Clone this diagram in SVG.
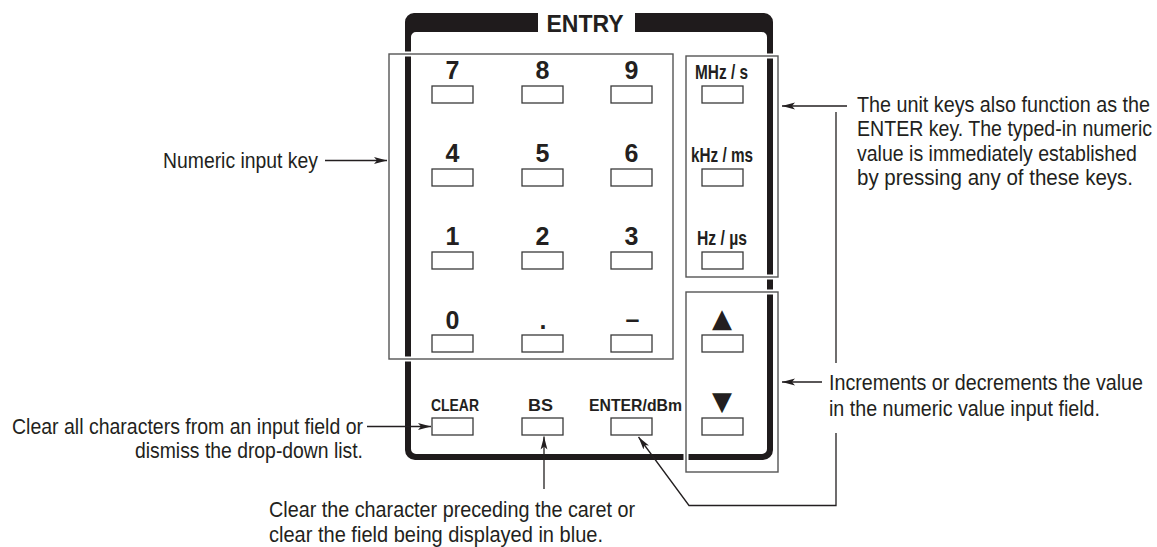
<svg xmlns="http://www.w3.org/2000/svg" width="1157" height="547" viewBox="0 0 1157 547">
<style>
.desc{font-family:"Liberation Sans",Arial,sans-serif;font-size:22px;fill:#231f20}
.dig{font-family:"Liberation Sans",Arial,sans-serif;font-size:25px;font-weight:bold;fill:#231f20;text-anchor:middle}
.lbl{font-family:"Liberation Sans",Arial,sans-serif;font-size:21px;font-weight:bold;fill:#231f20}
.sml{font-family:"Liberation Sans",Arial,sans-serif;font-size:16.5px;font-weight:bold;fill:#231f20}
.key{fill:#fff;stroke:#3a3a3a;stroke-width:1.3}
.halo{fill:none;stroke:#fff;stroke-width:5}
.box{fill:none;stroke:#555;stroke-width:1.4}
.con{fill:none;stroke:#231f20;stroke-width:1.3}
.tri{font-family:"DejaVu Sans",sans-serif;font-size:26px;fill:#231f20;text-anchor:middle}
</style>
<defs>
<marker id="ah" markerWidth="14" markerHeight="8" refX="13" refY="4" orient="auto" markerUnits="userSpaceOnUse">
<path d="M0,0.6 L13,4 L0,7.4 L3,4 Z" fill="#231f20"/>
</marker>
</defs>
<rect width="1157" height="547" fill="#fff"/>

<g id="panel">
<path fill="#1f1b1c" fill-rule="evenodd" d="M414,13 H764 A9,9 0 0 1 773,22 V450 A10,10 0 0 1 763,460 H415 A10,10 0 0 1 405,450 V22 A9,9 0 0 1 414,13 Z M416,32 A5,5 0 0 0 411,37 V449 A5,5 0 0 0 416,454 H762 A5,5 0 0 0 767,449 V37 A5,5 0 0 0 762,32 Z"/>
<rect x="538" y="10" width="97" height="24" fill="#fff"/>
<text x="585" y="32" font-family="Liberation Sans,Arial,sans-serif" font-size="23" font-weight="bold" fill="#231f20" text-anchor="middle">ENTRY</text>
</g>

<g id="keypad">
<rect class="halo" x="389" y="54" width="284" height="305"/>
<rect class="box" x="389" y="54" width="284" height="305"/>
<text class="dig" x="452.5" y="79">7</text>
<text class="dig" x="542.5" y="79">8</text>
<text class="dig" x="631.5" y="79">9</text>
<rect class="key" x="432" y="86" width="41" height="17"/>
<rect class="key" x="522" y="86" width="41" height="17"/>
<rect class="key" x="611" y="86" width="41" height="17"/>
<text class="dig" x="452.5" y="162">4</text>
<text class="dig" x="542.5" y="162">5</text>
<text class="dig" x="631.5" y="162">6</text>
<rect class="key" x="432" y="169" width="41" height="17"/>
<rect class="key" x="522" y="169" width="41" height="17"/>
<rect class="key" x="611" y="169" width="41" height="17"/>
<text class="dig" x="452.5" y="245">1</text>
<text class="dig" x="542.5" y="245">2</text>
<text class="dig" x="631.5" y="245">3</text>
<rect class="key" x="432" y="252" width="41" height="17"/>
<rect class="key" x="522" y="252" width="41" height="17"/>
<rect class="key" x="611" y="252" width="41" height="17"/>
<text class="dig" x="452.5" y="329">0</text>
<text class="dig" x="543" y="329" font-size="40">.</text>
<text class="dig" x="632.5" y="328">–</text>
<rect class="key" x="432" y="335" width="41" height="17"/>
<rect class="key" x="522" y="335" width="41" height="17"/>
<rect class="key" x="611" y="335" width="41" height="17"/>
</g>

<g id="unit-keys">
<rect class="halo" x="686" y="56" width="92" height="221"/>
<rect class="box" x="686" y="56" width="92" height="221"/>
<text class="lbl" x="695" y="79" textLength="53" lengthAdjust="spacingAndGlyphs">MHz / s</text>
<rect class="key" x="702" y="86" width="41" height="17"/>
<text class="lbl" x="691" y="162" textLength="62" lengthAdjust="spacingAndGlyphs">kHz / ms</text>
<rect class="key" x="702" y="169" width="41" height="17"/>
<text class="lbl" x="697" y="245" textLength="50" lengthAdjust="spacingAndGlyphs">Hz / µs</text>
<rect class="key" x="702" y="252" width="41" height="17"/>
</g>

<g id="arrow-keys">
<rect class="halo" x="686" y="292" width="92" height="180"/>
<rect class="box" x="686" y="292" width="92" height="180"/>
<text class="tri" x="722" y="327">▲</text>
<rect class="key" x="702" y="335" width="41" height="17"/>
<text class="tri" x="722" y="410">▼</text>
<rect class="key" x="702" y="418" width="41" height="17"/>
</g>

<g id="bottom-keys">
<text class="sml" x="431" y="411" textLength="48" lengthAdjust="spacingAndGlyphs">CLEAR</text>
<rect class="key" x="432" y="418" width="41" height="17"/>
<text class="sml" x="528" y="411" textLength="25" lengthAdjust="spacingAndGlyphs">BS</text>
<rect class="key" x="522" y="418" width="41" height="17"/>
<text class="sml" x="589" y="411" textLength="93" lengthAdjust="spacingAndGlyphs">ENTER/dBm</text>
<rect class="key" x="611" y="418" width="41" height="17"/>
</g>

<g id="labels">
<text class="desc" x="163" y="168" textLength="155" lengthAdjust="spacingAndGlyphs">Numeric input key</text>
<text class="desc" transform="translate(857,112) scale(0.9,1)" textLength="325.5" lengthAdjust="spacingAndGlyphs">The unit keys also function as the</text>
<text class="desc" transform="translate(857,136) scale(0.9,1)" textLength="327.8" lengthAdjust="spacingAndGlyphs">ENTER key. The typed-in numeric</text>
<text class="desc" transform="translate(857,160.5) scale(0.9,1)" textLength="311" lengthAdjust="spacingAndGlyphs">value is immediately established</text>
<text class="desc" transform="translate(857,185) scale(0.9,1)" textLength="306.7" lengthAdjust="spacingAndGlyphs">by pressing any of these keys.</text>
<text class="desc" transform="translate(829,390) scale(0.9,1)" textLength="348.9" lengthAdjust="spacingAndGlyphs">Increments or decrements the value</text>
<text class="desc" transform="translate(829,415.5) scale(0.9,1)" textLength="301.1" lengthAdjust="spacingAndGlyphs">in the numeric value input field.</text>
<text class="desc" x="12" y="434" textLength="351" lengthAdjust="spacingAndGlyphs">Clear all characters from an input field or</text>
<text class="desc" x="135" y="458" textLength="228" lengthAdjust="spacingAndGlyphs">dismiss the drop-down list.</text>
<text class="desc" x="269" y="517" textLength="366" lengthAdjust="spacingAndGlyphs">Clear the character preceding the caret or</text>
<text class="desc" x="269" y="541.5" textLength="334" lengthAdjust="spacingAndGlyphs">clear the field being displayed in blue.</text>
</g>

<g id="connectors">
<line class="con" x1="325" y1="160.5" x2="387" y2="160.5" marker-end="url(#ah)"/>
<line class="con" x1="847" y1="106" x2="782" y2="106" marker-end="url(#ah)"/>
<line class="con" x1="822" y1="382" x2="782" y2="382" marker-end="url(#ah)"/>
<line class="con" x1="367" y1="426.5" x2="431" y2="426.5" marker-end="url(#ah)"/>
<line class="con" x1="544" y1="489" x2="544" y2="436.5" marker-end="url(#ah)"/>
<line class="con" x1="836" y1="112" x2="836" y2="363"/>
<path class="con" d="M836,433 V505.5 H689 L638.5,437" marker-end="url(#ah)"/>
</g>
</svg>
